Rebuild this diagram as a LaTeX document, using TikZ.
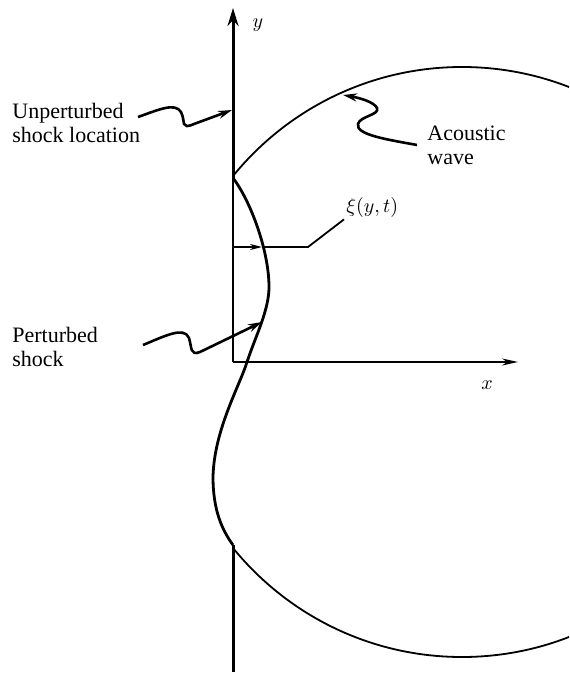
\documentclass[tikz,border=0pt]{standalone}
\usepackage{fontspec}
\setmainfont{Liberation Serif}
\usetikzlibrary{arrows.meta}

\begin{document}
\begin{tikzpicture}[x=0.5pt, y=-0.5pt,
		label text/.style={font=\fontsize{11}{12}\selectfont, align=left, inner sep=0pt, anchor=north west},
		pointer/.style={line width=1.3pt, -{Stealth[length=7pt, width=4pt]}},
		thin line/.style={line width=0.9pt}]
		\useasboundingbox (0,0) rectangle (569,674);

		\coordinate (o) at (233,362);
		\coordinate (top) at (233,178);
		\coordinate (bot) at (233,545);

		% axes
		\draw [line width=1.5pt, -{Stealth[length=9pt, width=5.5pt]}] (top) -- (233,8);
		\draw [line width=1.5pt] (bot) -- (233,672);
		\draw [thin line] (top) -- (o);
		\draw [thin line, -{Stealth[length=8pt, width=3.5pt]}] (o) -- (518,362);
		\node (ylab) at (258,25) {$y$};
		\node (xlab) at (487,385) {$x$};

		% acoustic wave
		\begin{scope}
			\clip (233,0) rectangle (569,674);
			\draw [thin line] (462,362) circle (295);
		\end{scope}

		% perturbed shock
		\draw [line width=1.4pt] (top) .. controls (250,200) and (269,250) .. (269,287)
			.. controls (269,310) and (256,335) .. (247,362)
			.. controls (240,385) and (214,430) .. (213,477)
			.. controls (213,510) and (222,530) .. (bot);

		% displacement xi
		\coordinate (xi0) at (233,247);
		\coordinate (xi1) at (262,247);
		\draw [thin line, -{Stealth[length=6pt, width=3pt]}] (xi0) -- (xi1);
		\node (xi) [anchor=west, inner sep=1pt] at (344,207) {$\xi(y, t)$};
		\draw [thin line] (xi1) -- (308,247) -- (xi.south west);

		% labels
		\node (unp) [label text] at (12,103) {Unperturbed\\shock location};
		\node (pert) [label text] at (12,327) {Perturbed\\shock};
		\node (aco) [label text] at (427,126) {Acoustic\\wave};

		\coordinate (unp-s) at (138,117);
		\coordinate (unp-t) at (232,110);
		\draw [pointer] (unp-s) .. controls (158,110) and (175,102) .. (181,112)
			.. controls (186,122) and (180,130) .. (194,124) -- (unp-t);

		\coordinate (pert-s) at (143,345);
		\coordinate (pert-t) at (262,322);
		\draw [pointer] (pert-s) .. controls (165,336) and (184,326) .. (189,338)
			.. controls (192,348) and (190,356) .. (200,352) -- (pert-t);

		\coordinate (aco-s) at (417,145);
		\coordinate (aco-t) at (343,95);
		\draw [pointer] (aco-s) .. controls (390,140) and (355,135) .. (358,124)
			.. controls (360,116) and (380,115) .. (377,108)
			.. controls (374,102) and (360,98) .. (aco-t);
	\end{tikzpicture}
\end{document}
